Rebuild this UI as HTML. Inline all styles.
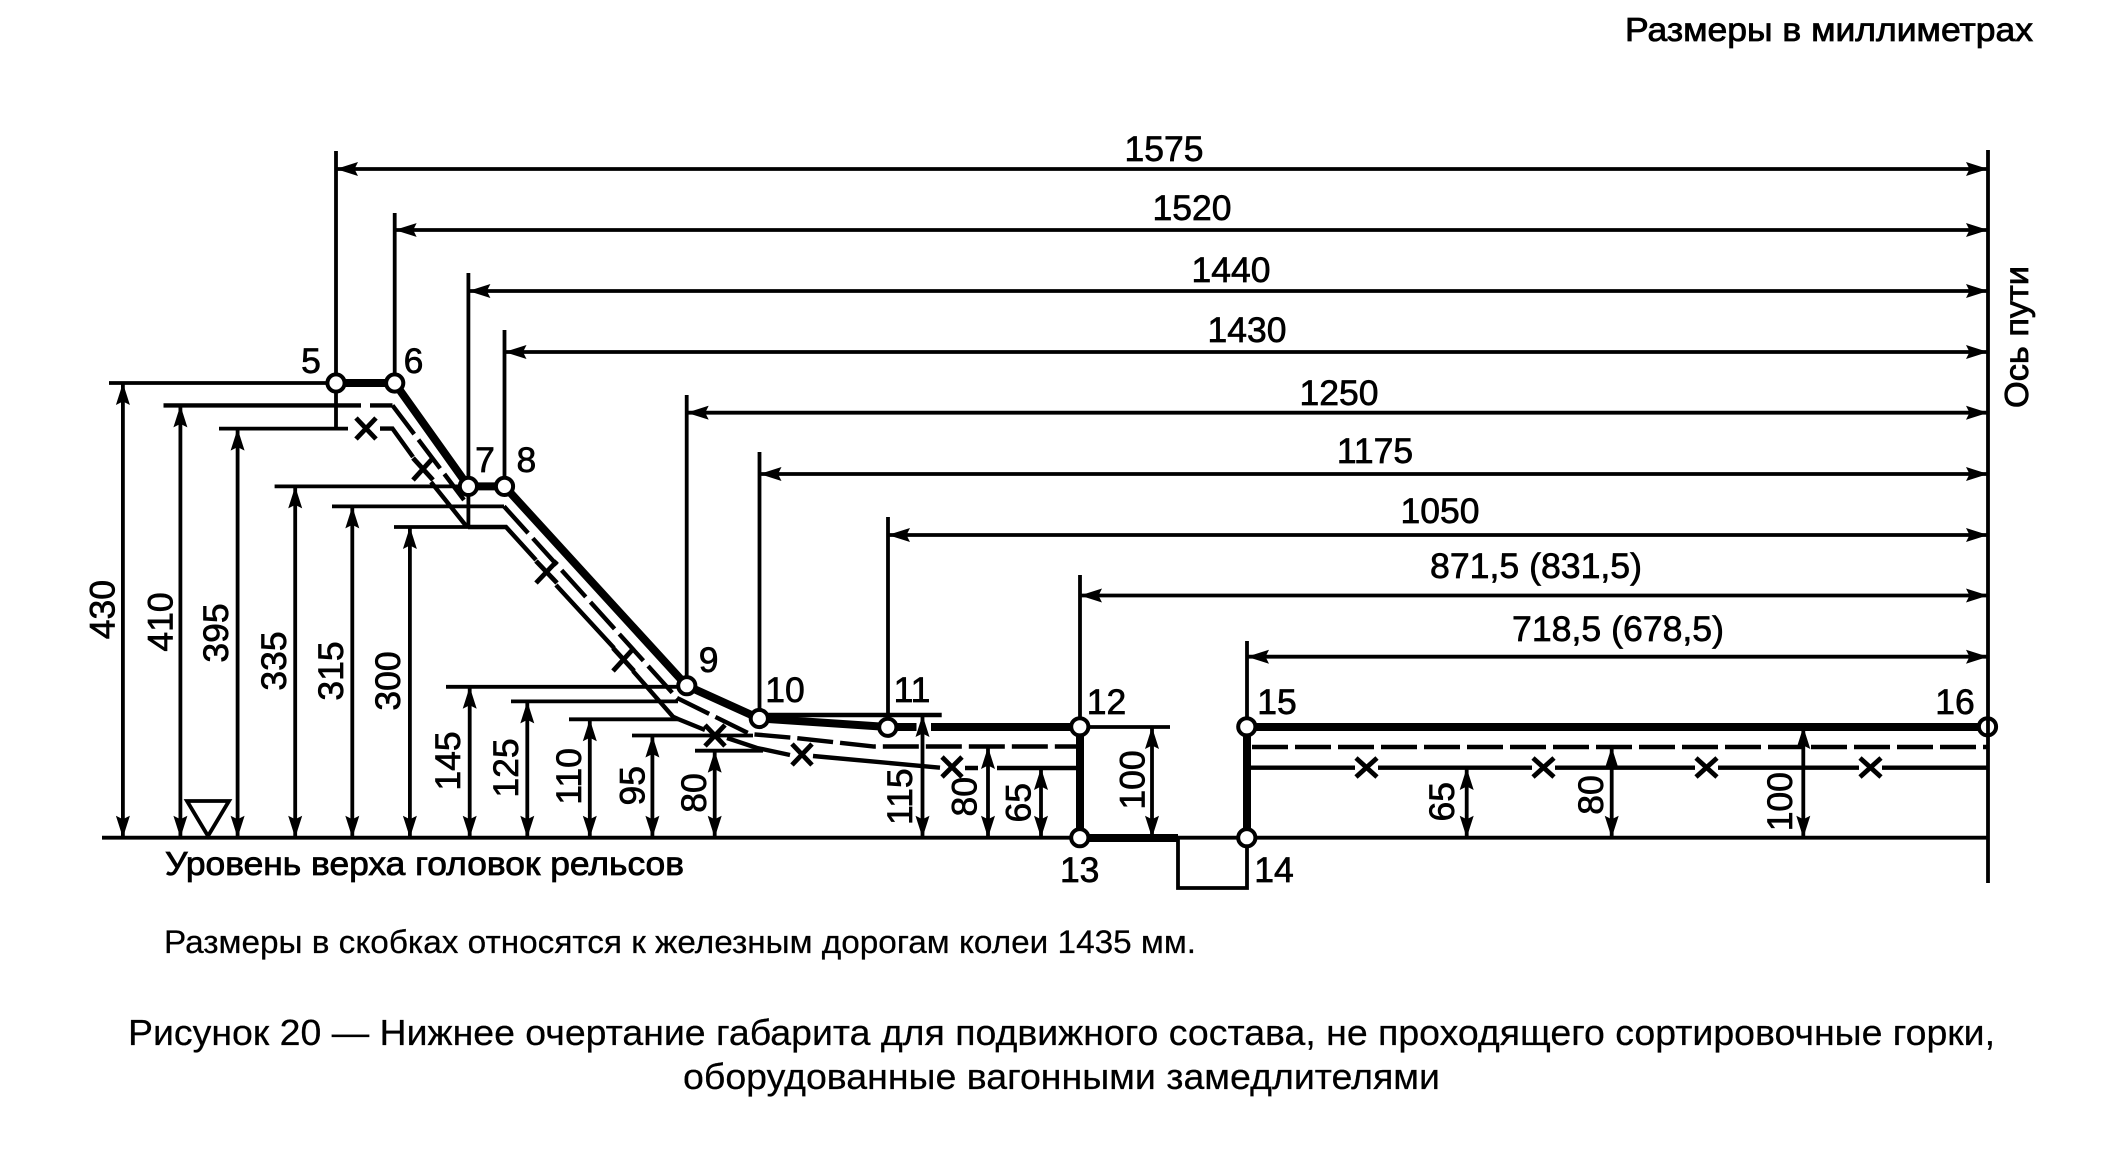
<!DOCTYPE html>
<html lang="ru">
<head>
<meta charset="utf-8">
<title>Рисунок 20</title>
<style>
html,body{margin:0;padding:0;background:#fff;width:2112px;height:1150px;overflow:hidden}
svg{display:block}
text{font-family:"Liberation Sans",sans-serif;fill:#000}
.n{font-size:35.5px;text-anchor:middle;stroke:#000;stroke-width:.7}
.t{stroke:#000;stroke-width:.8}
.c{stroke:#000;stroke-width:.25}
.thin{fill:none;stroke:#000;stroke-width:3.8}
.thick{fill:none;stroke:#000;stroke-width:8}
.mid{fill:none;stroke:#000;stroke-width:4.4}
.dash{fill:none;stroke:#000;stroke-width:4.4;stroke-dasharray:36 7}
.x{fill:none;stroke:#000;stroke-width:4.8}
.node{fill:#fff;stroke:#000;stroke-width:4}
</style>
</head>
<body>
<svg xmlns="http://www.w3.org/2000/svg" width="2112" height="1150" viewBox="0 0 2112 1150">
<defs>
<marker id="a" markerUnits="userSpaceOnUse" markerWidth="24" markerHeight="16" refX="22" refY="7" orient="auto-start-reverse" viewBox="0 0 24 14"><path d="M22 7L0 0 3.5 7 0 14Z" fill="#000"/></marker>
</defs>

<!-- axis and ground -->
<path class="thin" d="M1988 150V883"/>
<path class="thin" d="M102 837.7H1988"/>
<path class="thin" d="M1178 838V888H1247V838"/>

<!-- extension lines vertical -->
<path class="thin" d="M336 151V428.6M394.7 213V383M468.4 273V527M504.5 330V486M686.7 395V686M759.5 452V719M888 517V727M1080 575V727M1247 641V727"/>

<!-- level lines -->
<path class="thin" d="M109 383H336M219 428.6H348M274.6 486.4H468M332 506.4H504M394 527H468M446 686.8H687M511 701.4H678M569 719.3H678M632 735.5H753M695 750.7H763M1080 727H1170"/>
<path class="mid" d="M759 715H941.7"/>
<path class="mid" d="M163.5 405.4H361M370 405.4H392.5"/>

<!-- horizontal dimensions -->
<path class="thin" marker-start="url(#a)" marker-end="url(#a)" d="M336 169H1988"/>
<path class="thin" marker-start="url(#a)" marker-end="url(#a)" d="M394.7 230H1988"/>
<path class="thin" marker-start="url(#a)" marker-end="url(#a)" d="M468.4 291H1988"/>
<path class="thin" marker-start="url(#a)" marker-end="url(#a)" d="M504.5 352H1988"/>
<path class="thin" marker-start="url(#a)" marker-end="url(#a)" d="M686.7 412.7H1988"/>
<path class="thin" marker-start="url(#a)" marker-end="url(#a)" d="M759.5 474H1988"/>
<path class="thin" marker-start="url(#a)" marker-end="url(#a)" d="M888 535H1988"/>
<path class="thin" marker-start="url(#a)" marker-end="url(#a)" d="M1080 595.5H1988"/>
<path class="thin" marker-start="url(#a)" marker-end="url(#a)" d="M1247 656.7H1988"/>

<!-- vertical dimensions -->
<path class="thin" marker-start="url(#a)" marker-end="url(#a)" d="M122.9 383V837.7"/>
<path class="thin" marker-start="url(#a)" marker-end="url(#a)" d="M180.4 405.4V837.7"/>
<path class="thin" marker-start="url(#a)" marker-end="url(#a)" d="M237.6 428.6V837.7"/>
<path class="thin" marker-start="url(#a)" marker-end="url(#a)" d="M295.2 486.4V837.7"/>
<path class="thin" marker-start="url(#a)" marker-end="url(#a)" d="M352.3 506.4V837.7"/>
<path class="thin" marker-start="url(#a)" marker-end="url(#a)" d="M409.9 527V837.7"/>
<path class="thin" marker-start="url(#a)" marker-end="url(#a)" d="M469.7 686.8V837.7"/>
<path class="thin" marker-start="url(#a)" marker-end="url(#a)" d="M527.3 701.4V837.7"/>
<path class="thin" marker-start="url(#a)" marker-end="url(#a)" d="M589.8 719.3V837.7"/>
<path class="thin" marker-start="url(#a)" marker-end="url(#a)" d="M652.4 735.5V837.7"/>
<path class="thin" marker-start="url(#a)" marker-end="url(#a)" d="M714.7 750.7V837.7"/>
<path class="thin" marker-start="url(#a)" marker-end="url(#a)" d="M922.5 715V837.7"/>
<path class="thin" marker-start="url(#a)" marker-end="url(#a)" d="M988 747V837.7"/>
<path class="thin" marker-start="url(#a)" marker-end="url(#a)" d="M1041 768V837.7"/>
<path class="thin" marker-start="url(#a)" marker-end="url(#a)" d="M1152 727V837.7"/>
<path class="thin" marker-start="url(#a)" marker-end="url(#a)" d="M1466.7 768V837.7"/>
<path class="thin" marker-start="url(#a)" marker-end="url(#a)" d="M1611.7 747V837.7"/>
<path class="thin" marker-start="url(#a)" marker-end="url(#a)" d="M1803.3 727V837.7"/>

<!-- triangle -->
<path d="M187 801H229L208 836Z" fill="#fff" stroke="#000" stroke-width="3.8"/>

<!-- dashed 80-profile -->
<path class="dash" d="M392.5 405.4L464 500"/>
<path class="dash" d="M504 506.4L677 698L750 734L796 738L874 746.5H1076"/>
<path class="dash" d="M1252 747H1988"/>

<!-- solid 65-profile with gaps at crosses -->
<path class="mid" d="M380 428.6H392.5L413 457M431 482L466 525.7"/>
<path class="mid" d="M468 527H506L536 560M556 585L614 648M633 671L673 716.7L678 719L705 730M727 738L757 748L790 755M813 756L940 767.7M965 768H978M997 768H1076"/>
<path class="mid" d="M1250 767.7H1355M1378 767.7H1532M1555 767.7H1695M1718 767.7H1859M1882 767.7H1988"/>

<!-- crosses -->
<path class="x" d="M356 418L376 439M376 418L356 439"/>
<path class="x" d="M413 480L433 458M413 458L433 480"/>
<path class="x" d="M536 561L557 583M557 561L536 583"/>
<path class="x" d="M613 648L634 671M634 648L613 671"/>
<path class="x" d="M705 725L725 746M725 725L705 746"/>
<path class="x" d="M792 744L812 765M812 744L792 765"/>
<path class="x" d="M942 757L962 777M962 757L942 777"/>
<path class="x" d="M1356 758L1377 777M1377 758L1356 777"/>
<path class="x" d="M1533 758L1554 777M1554 758L1533 777"/>
<path class="x" d="M1696 758L1717 777M1717 758L1696 777"/>
<path class="x" d="M1860 758L1881 777M1881 758L1860 777"/>

<!-- thick contour -->
<path class="thick" d="M336 383H394.7L468.4 486.4H504.5L686.7 685.7L759.3 718.5L888 727H916.5"/>
<path class="thick" d="M931 727H1080V838H1178"/>
<path class="thick" d="M1247 727H1988M1247 727V838"/>

<!-- nodes -->
<circle class="node" cx="336" cy="383" r="8.6"/>
<circle class="node" cx="394.7" cy="383" r="8.6"/>
<circle class="node" cx="468.4" cy="486.4" r="8.6"/>
<circle class="node" cx="504.5" cy="486.4" r="8.6"/>
<circle class="node" cx="686.8" cy="685.7" r="8.6"/>
<circle class="node" cx="759.3" cy="718.5" r="8.6"/>
<circle class="node" cx="887.8" cy="727.3" r="8.6"/>
<circle class="node" cx="1079.8" cy="726.8" r="8.6"/>
<circle class="node" cx="1079.8" cy="837.7" r="8.6"/>
<circle class="node" cx="1246.8" cy="837.7" r="8.6"/>
<circle class="node" cx="1246.8" cy="726.8" r="8.6"/>
<circle class="node" cx="1987.5" cy="726.8" r="8.6"/>
<path class="thin" d="M1988 718V736"/>

<!-- top horizontal labels -->
<text class="n" x="1164" y="161">1575</text>
<text class="n" x="1192" y="220">1520</text>
<text class="n" x="1231" y="282">1440</text>
<text class="n" x="1247" y="342">1430</text>
<text class="n" x="1339" y="405">1250</text>
<text class="n" x="1375" y="463">1175</text>
<text class="n" x="1440" y="523">1050</text>
<text class="n" x="1536" y="578" textLength="212" lengthAdjust="spacingAndGlyphs">871,5 (831,5)</text>
<text class="n" x="1618" y="641" textLength="212" lengthAdjust="spacingAndGlyphs">718,5 (678,5)</text>

<!-- node labels -->
<text class="n" x="311" y="373">5</text>
<text class="n" x="413.5" y="373">6</text>
<text class="n" x="485" y="472">7</text>
<text class="n" x="526.4" y="472">8</text>
<text class="n" x="708.6" y="672">9</text>
<text class="n" x="785" y="702">10</text>
<text class="n" x="912" y="702">11</text>
<text class="n" x="1106.5" y="714">12</text>
<text class="n" x="1277" y="714">15</text>
<text class="n" x="1955" y="714">16</text>
<text class="n" x="1079.7" y="882">13</text>
<text class="n" x="1274" y="882">14</text>

<!-- rotated dimension labels -->
<text class="n" transform="translate(114.5 609.6) rotate(-90)">430</text>
<text class="n" transform="translate(172.5 622) rotate(-90)">410</text>
<text class="n" transform="translate(228 633) rotate(-90)">395</text>
<text class="n" transform="translate(286 661) rotate(-90)">335</text>
<text class="n" transform="translate(343 671) rotate(-90)">315</text>
<text class="n" transform="translate(400 681) rotate(-90)">300</text>
<text class="n" transform="translate(460 761) rotate(-90)">145</text>
<text class="n" transform="translate(518 768) rotate(-90)">125</text>
<text class="n" transform="translate(581 776.4) rotate(-90)">110</text>
<text class="n" transform="translate(644.7 785.7) rotate(-90)">95</text>
<text class="n" transform="translate(706 793) rotate(-90)">80</text>
<text class="n" transform="translate(912 796.7) rotate(-90)">115</text>
<text class="n" transform="translate(976.5 796.7) rotate(-90)">80</text>
<text class="n" transform="translate(1030.6 802.7) rotate(-90)">65</text>
<text class="n" transform="translate(1144.4 780) rotate(-90)">100</text>
<text class="n" transform="translate(1453.8 801.7) rotate(-90)">65</text>
<text class="n" transform="translate(1603 795) rotate(-90)">80</text>
<text class="n" transform="translate(1792 801.7) rotate(-90)">100</text>

<!-- texts -->
<text class="t" x="1625" y="41" font-size="33" textLength="408" lengthAdjust="spacingAndGlyphs">Размеры в миллиметрах</text>
<text class="t" x="165" y="875" font-size="33" textLength="519" lengthAdjust="spacingAndGlyphs">Уровень верха головок рельсов</text>
<text class="t" transform="translate(2028 408) rotate(-90)" font-size="33" textLength="142" lengthAdjust="spacingAndGlyphs">Ось пути</text>
<text class="c" x="164" y="953" font-size="32.5" textLength="1032" lengthAdjust="spacingAndGlyphs">Размеры в скобках относятся к железным дорогам колеи 1435 мм.</text>
<text class="c" x="128" y="1045" font-size="36" textLength="1867" lengthAdjust="spacingAndGlyphs">Рисунок 20 — Нижнее очертание габарита для подвижного состава, не проходящего сортировочные горки,</text>
<text class="c" x="683" y="1089" font-size="36" textLength="757" lengthAdjust="spacingAndGlyphs">оборудованные вагонными замедлителями</text>
</svg>
</body>
</html>
